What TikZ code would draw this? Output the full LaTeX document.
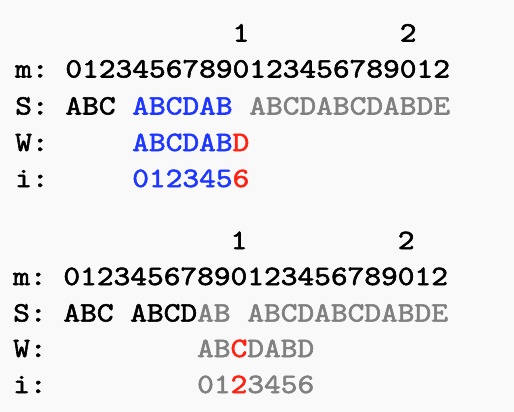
\documentclass[tikz,border=0pt]{standalone}
\usepackage{fontspec}
\usepackage{graphicx}
\newfontfamily\kmono{lmmono10-regular.otf}[FakeBold=1.8]
\definecolor{bgc}{HTML}{F9F9F9}
\definecolor{kblue}{HTML}{1E37FF}
\definecolor{kred}{HTML}{FF2212}
\definecolor{kgray}{HTML}{808080}
\newcommand\sprd[1]{\sprdi#1\relax}
\def\sprdi#1{\ifx\relax#1\else\makebox[16.72pt][c]{\scalebox{1.14}[1]{#1}}\expandafter\sprdi\fi}
\tikzset{
  txt/.style={anchor=base west, inner sep=0pt, outer sep=0pt,
    font=\kmono\fontsize{28}{28}\selectfont},
  kb/.style={txt, text=black},
  kbl/.style={txt, text=kblue},
  krd/.style={txt, text=kred},
  kgr/.style={txt, text=kgray}
}
% #1 style, #2 name, #3 column, #4 baseline, #5 text
\newcommand\seg[5]{\node[#1] (#2) at ({15.24+16.72*#3},#4) {\sprd{#5}};}
\begin{document}
\begin{tikzpicture}[x=1pt,y=-1pt]
\fill[bgc] (0,0) rectangle (514,412);
\useasboundingbox (0,0) rectangle (514,412);
% block 1
\seg{kb}{aone}{13}{41.5}{1}
\seg{kb}{atwo}{23}{41.5}{2}
\seg{kb}{am}{0}{77.5}{m:}
\seg{kb}{amd}{3}{77.5}{01234567890123456789012}
\seg{kb}{as}{0}{114.5}{S:}
\seg{kb}{asa}{3}{114.5}{ABC}
\seg{kbl}{asb}{7}{114.5}{ABCDAB}
\seg{kgr}{asc}{14}{114.5}{ABCDABCDABDE}
\seg{kb}{aw}{0}{151}{W:}
\seg{kbl}{awa}{7}{151}{ABCDAB}
\seg{krd}{awb}{13}{151}{D}
\seg{kb}{ai}{0}{187}{i:}
\seg{kbl}{aia}{7}{187}{012345}
\seg{krd}{aib}{13}{187}{6}
% block 2
\begin{scope}[xshift=-2pt]
\seg{kb}{bone}{13}{249}{1}
\seg{kb}{btwo}{23}{249}{2}
\seg{kb}{bm}{0}{285}{m:}
\seg{kb}{bmd}{3}{285}{01234567890123456789012}
\seg{kb}{bs}{0}{321.5}{S:}
\seg{kb}{bsa}{3}{321.5}{ABC}
\seg{kb}{bsb}{7}{321.5}{ABCD}
\seg{kgr}{bsc}{11}{321.5}{AB}
\seg{kgr}{bsd}{14}{321.5}{ABCDABCDABDE}
\seg{kb}{bw}{0}{357}{W:}
\seg{kgr}{bwa}{11}{357}{AB}
\seg{krd}{bwb}{13}{357}{C}
\seg{kgr}{bwc}{14}{357}{DABD}
\seg{kb}{bi}{0}{393}{i:}
\seg{kgr}{bia}{11}{393}{01}
\seg{krd}{bib}{13}{393}{2}
\seg{kgr}{bic}{14}{393}{3456}
\end{scope}
\end{tikzpicture}
\end{document}
